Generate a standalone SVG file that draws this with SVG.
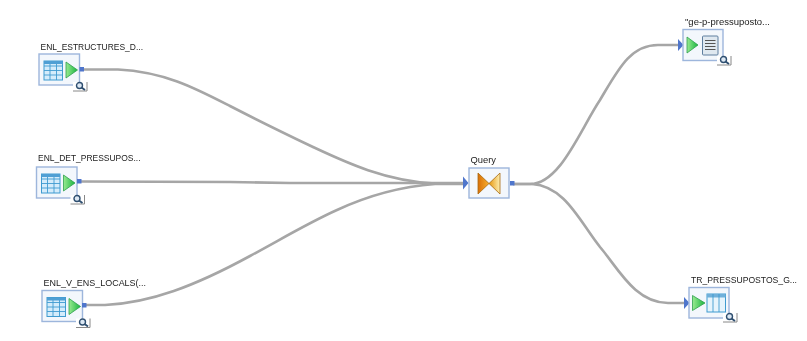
<svg xmlns="http://www.w3.org/2000/svg" width="807" height="341" viewBox="0 0 807 341">
<style>
.lbl{font-family:"Liberation Sans",Arial,sans-serif;font-size:9.500px;fill:#222}
.box{fill:#f3f7fc;stroke:#9db6dc;stroke-width:1.400}
.link{fill:none;stroke:#a6a6a6;stroke-width:2.600}
.port{fill:#5076cc}
.tip{fill:#5076cc}
.play{fill:url(#g);stroke:#2f9f4f;stroke-width:.8}
.tbl{fill:#d4ecfb;stroke:#3f9bd0;stroke-width:1}
.ln{stroke:#3f9bd0;stroke-width:.9;fill:none}
.doc{fill:#dfe8f0;stroke:#5f7f9f;stroke-width:1}
.dl{stroke:#555;stroke-width:1;fill:none}
.mg{fill:none;stroke:#888;stroke-width:1}
.bow{stroke:#a8690f;stroke-width:.8}
</style>
<defs>
<filter id="soft" x="0" y="0" width="100%" height="100%" filterUnits="userSpaceOnUse"><feGaussianBlur stdDeviation="0.450"/></filter>
<linearGradient id="g" x1="0" y1="0" x2="1" y2="0"><stop offset="0" stop-color="#98ea90"/><stop offset="1" stop-color="#19b53f"/></linearGradient>
<linearGradient id="q1" x1="0" y1="0" x2="1" y2="0"><stop offset="0" stop-color="#d96f06"/><stop offset="1" stop-color="#f8b030"/></linearGradient>
<linearGradient id="q2" x1="0" y1="0" x2="1" y2="0"><stop offset="0" stop-color="#e8980f"/><stop offset="1" stop-color="#fdeeb0"/></linearGradient>
<g id="mag">
<rect x="0" y="0" width="14" height="9" fill="#fff"/>
<path class="mg" d="M0 9H14V0"/>
<circle cx="6.500" cy="3.500" r="3" fill="#dce8f4" stroke="#2f4f70" stroke-width="1.400"/>
<path d="M8.500 5.500L12 8" stroke="#2f4f70" stroke-width="1.900"/>
</g>
<g id="src">
<rect class="box" x="0" y="0" width="40.500" height="31"/>
<rect class="tbl" x="5" y="7" width="18.500" height="19"/>
<path class="ln" d="M5 12H23.500M5 16.500H23.500M5 21H23.500M11 7V26M17.500 7V26"/>
<path d="M5 7H23.500V10H5Z" fill="#4f9fd4"/>
<path class="play" d="M27 8L38.500 16L27 24Z"/>
<use href="#mag" x="34" y="28"/>
</g>
</defs>
<rect width="807" height="341" fill="#fff"/>
<g filter="url(#soft)">
<g id="connectors">
<path class="link" d="M84 69.500H118C165 72 195 88 230 106C265 124 290 136 313 147C345 162 385 181 435 183.500H465"/>
<path class="link" d="M81 181.500L230 182L290 183H465"/>
<path class="link" d="M86 305H105C150 303 195 286 250 256C285 237 310 222 337 210C365 197 395 187 435 184H465"/>
<path class="link" d="M513 184H530C560 184 580 130 600 100C618 70 630 45 658 45H678"/>
<path class="link" d="M513 184H532C565 186 580 222 600 247C618 268 635 303 668 303H684"/>
</g>
<g id="node-estructures">
<text class="lbl" x="40.500" y="50" textLength="102.500" lengthAdjust="spacingAndGlyphs">ENL_ESTRUCTURES_D...</text>
<use href="#src" x="39" y="54"/>
<rect class="port" x="79.500" y="67" width="4.500" height="4.500"/>
</g>
<g id="node-det">
<text class="lbl" x="38" y="161" textLength="102.500" lengthAdjust="spacingAndGlyphs">ENL_DET_PRESSUPOS...</text>
<use href="#src" x="36.500" y="167"/>
<rect class="port" x="77" y="179" width="4.500" height="4.500"/>
</g>
<g id="node-locals">
<text class="lbl" x="43.500" y="286" textLength="102.500" lengthAdjust="spacingAndGlyphs">ENL_V_ENS_LOCALS(...</text>
<use href="#src" x="42" y="290.500"/>
<rect class="port" x="82" y="303" width="4.500" height="4.500"/>
</g>
<g id="node-query">
<text class="lbl" x="470.500" y="163" textLength="25.500" lengthAdjust="spacingAndGlyphs">Query</text>
<path class="tip" d="M463 176.500L468.500 183L463 189.500Z"/>
<rect class="box" x="469" y="168" width="40" height="30"/>
<path class="bow" d="M478 173L489 183.500L478 194Z" fill="url(#q1)"/>
<path class="bow" d="M500 173L489 183.500L500 194Z" fill="url(#q2)"/>
<rect class="port" x="510" y="181" width="4.500" height="4.500"/>
</g>
<g id="node-ge">
<text class="lbl" x="685" y="25" textLength="85" lengthAdjust="spacingAndGlyphs">"ge-p-pressuposto...</text>
<path class="tip" d="M678 39L683.500 45L678 51Z"/>
<rect class="box" x="683" y="29.500" width="40" height="31"/>
<path class="play" d="M687 37L698 45L687 53Z"/>
<rect class="doc" x="702.500" y="36" width="15.500" height="19" rx="1"/>
<path class="dl" d="M705 40.500H715.500M705 43.500H715.500M705 46.500H715.500M705 49.500H715.500"/>
<use href="#mag" x="717" y="56"/>
</g>
<g id="node-tr">
<text class="lbl" x="691" y="283" textLength="106" lengthAdjust="spacingAndGlyphs">TR_PRESSUPOSTOS_G...</text>
<path class="tip" d="M684 297L689.500 303L684 309Z"/>
<rect class="box" x="689" y="287.500" width="40" height="30.500"/>
<path class="play" d="M692.500 295.500L705 303L692.500 310.500Z"/>
<rect class="tbl" x="707" y="294" width="18.500" height="18" style="fill:#e6f4fc"/>
<path d="M707 294H725.500V297.500H707Z" fill="#6fb0da"/>
<path class="ln" d="M713 294V312M719 294V312"/>
<use href="#mag" x="723" y="313"/>
</g>
</g>
</svg>
